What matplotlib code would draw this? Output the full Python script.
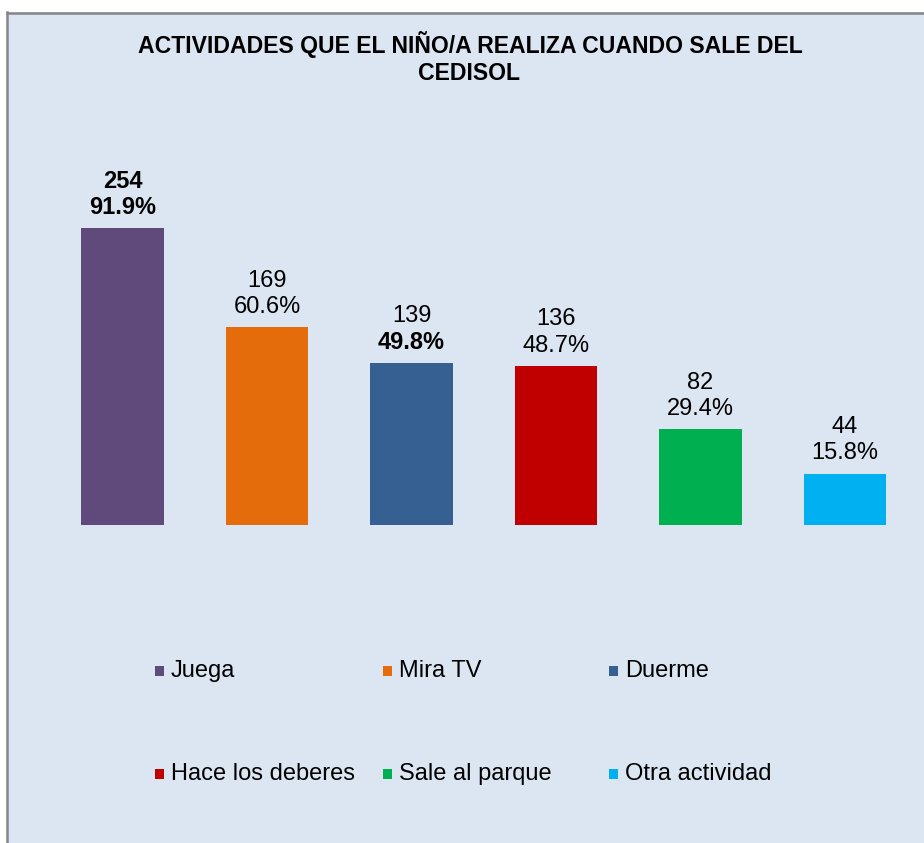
import matplotlib
matplotlib.use('Agg')
import matplotlib.pyplot as plt
from matplotlib.patches import Rectangle
from matplotlib.lines import Line2D

plt.rcParams['font.family'] = ['Liberation Sans', 'DejaVu Sans']

# datos
categorias = ['Juega', 'Mira TV', 'Duerme', 'Hace los deberes', 'Sale al parque', 'Otra actividad']
cantidades = [254, 169, 139, 136, 82, 44]
porcentajes = ['91.9%', '60.6%', '49.8%', '48.7%', '29.4%', '15.8%']
colores = ['#604A7B', '#E46C0A', '#376092', '#C00000', '#00B050', '#00B0F0']
negrita_num = [True, False, False, False, False, False]
negrita_pct = [True, False, True, False, False, False]

W, H = 924, 843
fig = plt.figure(figsize=(W / 100, H / 100), dpi=100)
fig.patch.set_facecolor('white')

def px(x, y):
    # pixeles (desde arriba a la izquierda) a fraccion de figura
    return x / W, 1 - y / H

# fondo del grafico
fondo = Rectangle(px(7, H + 5), (W + 10) / W, (H - 7) / H, transform=fig.transFigure,
                  facecolor='#DCE6F2', edgecolor='none', zorder=0)
fig.add_artist(fondo)
fig.add_artist(Line2D([7 / W, 1.01], [1 - 12.5 / H] * 2, transform=fig.transFigure,
                      color='#868686', lw=1.8, zorder=1))
fig.add_artist(Line2D([7.5 / W, 7.5 / W], [1 - 12 / H, -0.01], transform=fig.transFigure,
                      color='#868686', lw=1.8, zorder=1))

# titulo
fig.text(*px(470, 45), 'ACTIVIDADES QUE EL NIÑO/A REALIZA CUANDO SALE DEL',
         ha='center', va='center', fontsize=16.6, fontweight='bold')
fig.text(*px(469, 73), 'CEDISOL', ha='center', va='center', fontsize=16.6, fontweight='bold')

# barras
ax = fig.add_axes([50.25 / W, 318 / H, 867 / W, 350.7 / H])
ax.set_facecolor('none')
x = list(range(len(categorias)))
barras = ax.bar(x, cantidades, width=0.574, color=colores, zorder=2)
ax.set_xlim(-0.5, 5.5)
ax.set_ylim(0, 300)
ax.axis('off')

for i, b in enumerate(barras):
    cx = b.get_x() + b.get_width() / 2
    top = b.get_height()
    ax.annotate(str(cantidades[i]), (cx, top), xytext=(0, 33.5), textcoords='offset points',
                ha='center', va='center', fontsize=17,
                fontweight='bold' if negrita_num[i] else 'normal')
    ax.annotate(porcentajes[i], (cx, top), xytext=(0, 14.5), textcoords='offset points',
                ha='center', va='center', fontsize=17,
                fontweight='bold' if negrita_pct[i] else 'normal')

# leyenda
col_x = [155, 383, 609]
fila_y = [671, 774]
for i, cat in enumerate(categorias):
    mx = col_x[i % 3]
    my = fila_y[i // 3]
    fig.add_artist(Rectangle(px(mx, my + 4.5), 9 / W, 10 / H, transform=fig.transFigure,
                             facecolor=colores[i], edgecolor='none'))
    fig.text(*px(mx + 16, my), cat, ha='left', va='center', fontsize=17)

fig.savefig('out.png', dpi=100)
